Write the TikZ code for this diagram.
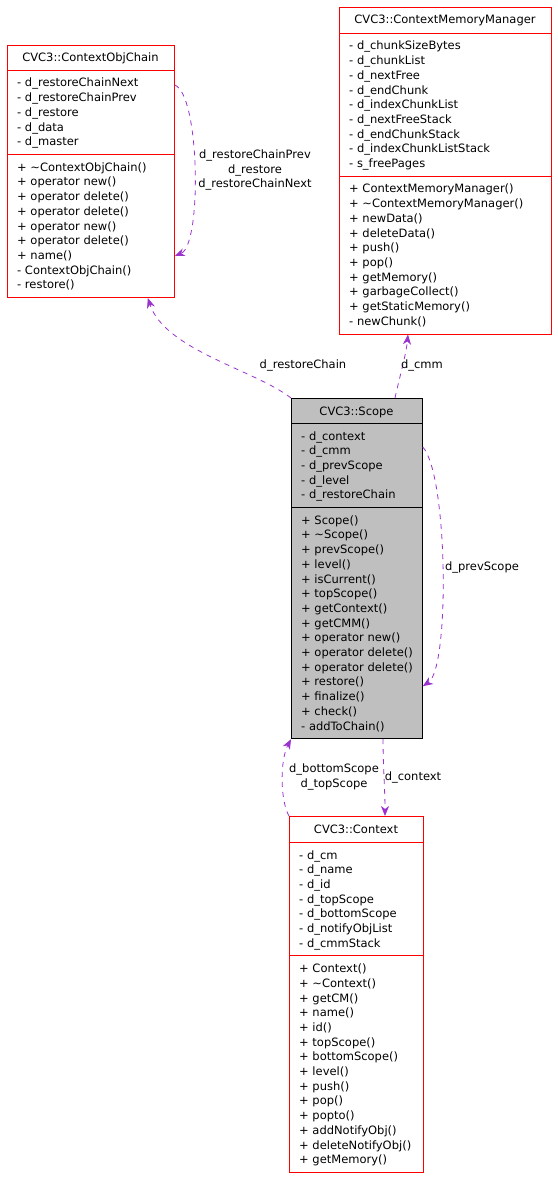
\documentclass[tikz,border=0pt]{standalone}
\usepackage{fontspec}
\setmainfont{DejaVu Sans}
\usetikzlibrary{arrows.meta}
\definecolor{linkcol}{HTML}{9A32CD}
\begin{document}
\begin{tikzpicture}[x=1pt,y=-1pt]
\tikzstyle{every node}=[font=\fontsize{11.5}{14.7}\selectfont,inner sep=0]
\tikzstyle{classbox}=[draw=red,line width=0.8,anchor=north west]
\tikzstyle{link}=[draw=linkcol,line width=0.8,dash pattern=on 5pt off 5pt,-{Stealth[length=10pt,width=8pt,inset=3pt]}]
\useasboundingbox (0,0) rectangle (557,1177);
% class frames and compartments
\foreach \a/\x/\y/\w/\da/\db/\yb/\l in {chain/7/45/167/70/154.2/297.2/CVC3::ContextObjChain,
  cmm/339/7/212/33/176/333.7/CVC3::ContextMemoryManager,
  context/289/816/134/842/955.6/1172.1/CVC3::Context}{
\path (\x,\y) node [classbox,minimum width=\w,minimum height={\yb-\y}] (\a) {};
\draw [red,line width=0.8] (\x,\da) -- +(\w,0) (\x,\db) -- +(\w,0);
\path ({\x+\w/2},{\y+17}) node [anchor=base] (\a-title) {\l};
}
\path (291,398) node [classbox,draw=black,fill=gray!50,minimum width=131,minimum height=340.4] (scope) {};
\draw [line width=0.8] (291,423) -- +(131,0) (291,507.2) -- +(131,0);
\path (356.5,415) node [anchor=base] (scope-title) {CVC3::Scope};
% members
\foreach \m [count=\i] in {- d\_restoreChainNext,- d\_restoreChainPrev,- d\_restore,- d\_data,- d\_master}
\path (17,{87+14.7*(\i-1)}) node [anchor=base west] (chain-a\i) {\m};
\foreach \m [count=\i] in {+ \textasciitilde ContextObjChain(),+ operator new(),+ operator delete(),+ operator delete(),
  + operator new(),+ operator delete(),+ name(),- ContextObjChain(),- restore()}
\path (17,{171.2+14.7*(\i-1)}) node [anchor=base west] (chain-m\i) {\m};
\foreach \m [count=\i] in {- d\_chunkSizeBytes,- d\_chunkList,- d\_nextFree,- d\_endChunk,- d\_indexChunkList,
  - d\_nextFreeStack,- d\_endChunkStack,- d\_indexChunkListStack,- s\_freePages}
\path (349,{50+14.7*(\i-1)}) node [anchor=base west] (cmm-a\i) {\m};
\foreach \m [count=\i] in {+ ContextMemoryManager(),+ \textasciitilde ContextMemoryManager(),+ newData(),+ deleteData(),
  + push(),+ pop(),+ getMemory(),+ garbageCollect(),+ getStaticMemory(),- newChunk()}
\path (349,{193+14.7*(\i-1)}) node [anchor=base west] (cmm-m\i) {\m};
\foreach \m [count=\i] in {- d\_context,- d\_cmm,- d\_prevScope,- d\_level,- d\_restoreChain}
\path (301,{440+14.7*(\i-1)}) node [anchor=base west] (scope-a\i) {\m};
\foreach \m [count=\i] in {+ Scope(),+ \textasciitilde Scope(),+ prevScope(),+ level(),+ isCurrent(),+ topScope(),
  + getContext(),+ getCMM(),+ operator new(),+ operator delete(),+ operator delete(),+ restore(),+ finalize(),
  + check(),- addToChain()}
\path (301,{524.2+14.7*(\i-1)}) node [anchor=base west] (scope-m\i) {\m};
\foreach \m [count=\i] in {- d\_cm,- d\_name,- d\_id,- d\_topScope,- d\_bottomScope,- d\_notifyObjList,- d\_cmmStack}
\path (299,{859+14.7*(\i-1)}) node [anchor=base west] (context-a\i) {\m};
\foreach \m [count=\i] in {+ Context(),+ \textasciitilde Context(),+ getCM(),+ name(),+ id(),+ topScope(),+ bottomScope(),
  + level(),+ push(),+ pop(),+ popto(),+ addNotifyObj(),+ deleteNotifyObj(),+ getMemory()}
\path (299,{972.6+14.7*(\i-1)}) node [anchor=base west] (context-m\i) {\m};
% links
\draw [link] (scope.north west) .. controls (255,370) and (165,350) .. ([xshift=-27]chain.south east);
\path (303,365) node (l-restorechain) {d\_restoreChain};
\draw [link] ([xshift=104]scope.north west) .. controls (400,375) and (406,355) .. ([xshift=69]cmm.south west);
\path (422,365) node (l-cmm) {d\_cmm};
\draw [link] ([yshift=-49]scope.north east) .. controls (448,475) and (450,668) .. ([yshift=53]scope.south east);
\path (482,567) node (l-prevscope) {d\_prevScope};
\draw [link] ([yshift=-40]chain.north east) .. controls (200,95) and (202,245) .. ([yshift=42]chain.south east);
\path (255,170) node [align=center] (l-chain) {d\_restoreChainPrev\\d\_restore\\d\_restoreChainNext};
\draw [link] ([xshift=92]scope.south west) .. controls (383,765) and (385,790) .. ([xshift=96]context.north west);
\path (413,777) node (l-context) {d\_context};
\draw [link] (context.north west) .. controls (280,800) and (280,760) .. (scope.south west);
\path (334,777) node [align=center] (l-scope) {d\_bottomScope\\d\_topScope};
\end{tikzpicture}
\end{document}
